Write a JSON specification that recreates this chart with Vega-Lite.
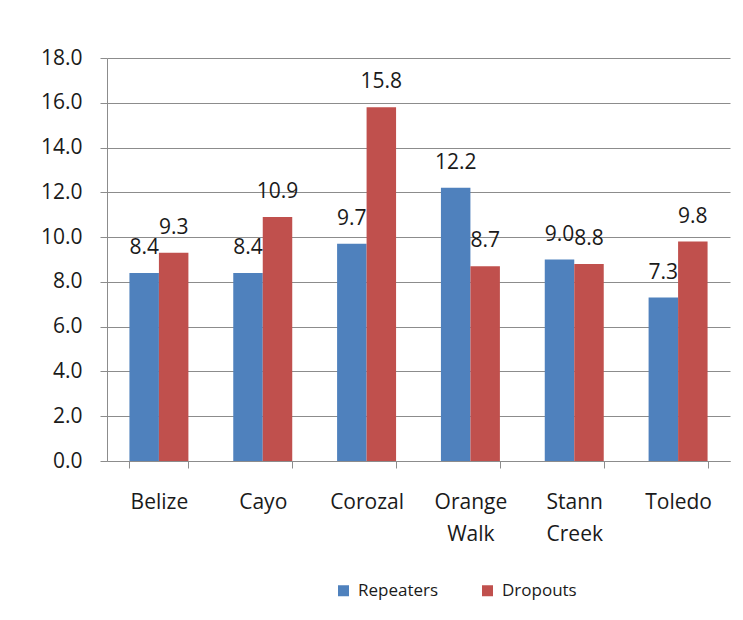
{
  "$schema": "https://vega.github.io/schema/vega-lite/v6.json",
  "width": 623,
  "height": 403,
  "autosize": {"type": "none"},
  "padding": {"left": 107, "top": 58, "right": 13, "bottom": 159},
  "background": "white",
  "config": {
    "view": {"stroke": null},
    "font": "Open Sans",
    "axis": {"labelFont": "Open Sans", "labelColor": "#1a1a1a", "domainColor": "#8c8c8c", "tickColor": "#8c8c8c", "gridColor": "#8c8c8c", "gridOpacity": 1}
  },
  "data": {
    "values": [
      {"district": "Belize", "series": "Repeaters", "value": 8.4},
      {"district": "Belize", "series": "Dropouts", "value": 9.3},
      {"district": "Cayo", "series": "Repeaters", "value": 8.4},
      {"district": "Cayo", "series": "Dropouts", "value": 10.9},
      {"district": "Corozal", "series": "Repeaters", "value": 9.7},
      {"district": "Corozal", "series": "Dropouts", "value": 15.8},
      {"district": "Orange Walk", "series": "Repeaters", "value": 12.2},
      {"district": "Orange Walk", "series": "Dropouts", "value": 8.7},
      {"district": "Stann Creek", "series": "Repeaters", "value": 9.0},
      {"district": "Stann Creek", "series": "Dropouts", "value": 8.8},
      {"district": "Toledo", "series": "Repeaters", "value": 7.3},
      {"district": "Toledo", "series": "Dropouts", "value": 9.8}
    ]
  },
  "encoding": {
    "x": {
      "field": "district", "type": "nominal", "sort": null,
      "scale": {"paddingInner": 0.432, "paddingOuter": 0.216},
      "axis": {
        "title": null, "labelAngle": 0, "labelFontSize": 21, "labelPadding": 23,
        "tickSize": 7, "tickBand": "extent", "grid": false,
        "labelExpr": "split(datum.label, ' ')", "labelLineHeight": 32, "labelBaseline": "top"
      }
    },
    "xOffset": {"field": "series", "type": "nominal", "sort": ["Repeaters", "Dropouts"], "scale": {"paddingInner": 0, "paddingOuter": 0}},
    "y": {
      "field": "value", "type": "quantitative",
      "scale": {"domain": [0, 18], "nice": false},
      "axis": {"title": null, "values": [0, 2, 4, 6, 8, 10, 12, 14, 16, 18], "format": ".1f", "labelFontSize": 21, "tickSize": 7, "labelPadding": 18, "grid": true}
    }
  },
  "layer": [
    {
      "mark": {"type": "bar"},
      "encoding": {
        "color": {
          "field": "series", "type": "nominal",
          "scale": {"domain": ["Repeaters", "Dropouts"], "range": ["#4F81BD", "#C0504D"]},
          "legend": {
            "title": null, "orient": "none", "direction": "horizontal",
            "legendX": 228, "legendY": 524, "symbolType": "square", "symbolSize": 121,
            "symbolStrokeWidth": 0, "labelFontSize": 17, "labelColor": "#1a1a1a",
            "labelFont": "Open Sans", "columnPadding": 40, "labelOffset": 6
          }
        }
      }
    },
    {
      "mark": {"type": "text", "baseline": "alphabetic", "dy": -19, "fontSize": 21, "color": "#1a1a1a"},
      "encoding": {
        "text": {"field": "value", "type": "quantitative", "format": ".1f"}
      }
    }
  ]
}
